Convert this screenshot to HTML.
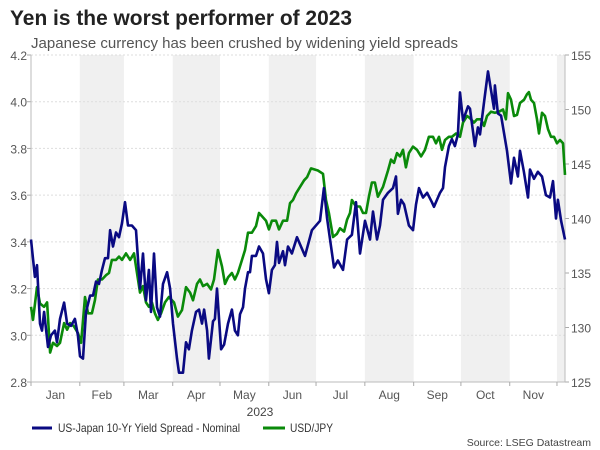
<!DOCTYPE html>
<html><head><meta charset="utf-8"><style>
body{margin:0;background:#fff;font-family:"Liberation Sans",Arial,sans-serif}
svg{display:block}
</style></head><body>
<svg id="c" width="600" height="450" xmlns="http://www.w3.org/2000/svg">
<text x="10" y="25" font-size="21" font-weight="bold" fill="#222" textLength="342" lengthAdjust="spacingAndGlyphs">Yen is the worst performer of 2023</text>
<text x="31" y="48" font-size="15" fill="#555" textLength="427" lengthAdjust="spacingAndGlyphs">Japanese currency has been crushed by widening yield spreads</text>
<g id="bands"></g><g id="grid"></g><g id="axes"></g><g id="lines"></g>
<text x="260" y="416" font-size="12" fill="#444" text-anchor="middle">2023</text>
<line x1="32" y1="428" x2="52" y2="428" stroke="#0a0a82" stroke-width="3"/>
<text x="58" y="432" font-size="12" fill="#333" textLength="182" lengthAdjust="spacingAndGlyphs">US-Japan 10-Yr Yield Spread - Nominal</text>
<line x1="263" y1="428" x2="285" y2="428" stroke="#0a8a0a" stroke-width="3"/>
<text x="290" y="432" font-size="12" fill="#333" textLength="43" lengthAdjust="spacingAndGlyphs">USD/JPY</text>
<text x="591" y="446" font-size="10.5" fill="#444" text-anchor="end">Source: LSEG Datastream</text>
</svg>
<script>
const months=["Jan","Feb","Mar","Apr","May","Jun","Jul","Aug","Sep","Oct","Nov"];
const monthStarts=[0,31,59,90,120,151,181,212,243,273,304,334];
const leftTicks=[2.8,3.0,3.2,3.4,3.6,3.8,4.0,4.2];
const rightTicks=[125,130,135,140,145,150,155];
const spreadDays=[0,2.5,3.8,5.7,7,8.3,10.8,12.7,15.2,16.5,18.4,21,22.9,25.4,27.9,29.8,31.1,33,34.9,37.5,39.4,41.3,43.2,45.1,47,48.9,50.2,52.1,54,55.9,57.8,59.7,61.6,64.1,66.7,69.2,71.1,73,74.9,76.2,78.1,80,81.9,83.8,86.4,88.3,90.2,92.7,94,96.5,98.4,100.3,102.2,104.8,106.7,108.6,109.9,111.8,113,115.6,116.8,118.1,120.7,122.6,125.1,127.6,129.5,131.4,132.7,134.6,135.9,137.8,139.1,140.3,142.9,144.8,147.3,149.2,151.1,153,154.9,156.2,157.5,160,161.3,163.2,165.7,168.9,174,178.4,183.5,186,188,192.4,194.9,198.1,200.7,203.8,206.4,208.9,212.1,215.3,217.2,219.7,221.6,223.5,226.7,229.9,231.8,233,235,236.9,240,242.6,244.5,246.4,248.9,251.5,254.6,255.9,259.7,261.6,262.9,265.4,267.3,269.2,271.1,272.4,274.3,277.5,278.8,281.9,283.8,285.1,287.7,290.2,294,294.6,296.5,298.5,302.3,304.8,306.7,309.2,310.5,313,315.6,316.9,319.4,321.9,324.5,327,329.6,331.5,333.4,334.6,336.6,339.1];
const spreadVals=[3.41,3.25,3.3,3.05,3.02,3.1,2.95,3.0,3.02,2.97,3.07,3.14,3.05,3.04,3.07,3.0,2.91,2.9,3.1,3.17,3.17,3.23,3.22,3.28,3.33,3.33,3.45,3.38,3.44,3.42,3.48,3.57,3.47,3.47,3.45,3.2,3.35,3.15,3.28,3.1,3.35,3.12,3.08,3.22,3.27,3.2,3.05,2.9,2.84,2.84,2.97,2.94,3.02,3.1,3.11,3.05,3.11,3.02,2.9,3.06,3.07,3.2,2.94,2.96,3.05,3.11,3.02,3.0,3.09,3.12,3.2,3.27,3.27,3.34,3.34,3.38,3.35,3.24,3.18,3.28,3.3,3.4,3.31,3.36,3.3,3.38,3.35,3.42,3.34,3.45,3.49,3.63,3.5,3.29,3.32,3.28,3.41,3.43,3.57,3.35,3.49,3.41,3.53,3.41,3.47,3.58,3.61,3.63,3.68,3.52,3.58,3.56,3.47,3.45,3.56,3.63,3.59,3.61,3.57,3.55,3.61,3.63,3.72,3.81,3.84,3.81,3.86,4.04,3.92,3.98,3.97,3.81,3.89,3.86,4.0,4.13,3.97,4.07,3.95,3.94,3.79,3.65,3.76,3.68,3.79,3.7,3.59,3.71,3.67,3.7,3.68,3.6,3.59,3.66,3.5,3.58,3.49,3.41];
const jpyDays=[0,1.3,3.8,5.7,8.3,10.2,12.1,14,16.5,18.4,21,22.9,24.8,27.3,29.8,31.8,34.3,36.2,38.7,40.6,42.5,45.1,47.6,49.5,51.4,54,55.9,57.8,60.3,62.9,65.4,67.3,69.2,71.1,73,74.9,76.8,78.7,80.6,82.6,85.1,87.6,90.8,93.3,95.9,98.4,101,102.9,105.4,107.3,109.2,111.8,114.3,116.2,118.7,121.3,123.2,125.1,127.6,129.5,131.4,134,135.9,137.8,140.3,142.9,144.8,146.7,149.2,151.1,153,155.6,157.5,160,162.6,164.5,166.4,168.3,170.8,173.4,175.3,177.8,182.2,185.4,187.3,189.2,191.8,194.3,196.2,198.8,200.7,202.6,203.8,206.4,208.9,210.8,212.7,214.6,216.5,218.4,220.3,223.5,226.7,228.6,230.5,232.4,234.3,236.2,238.1,240,242.6,245.1,247.7,250.2,252.7,255.3,257.2,259.1,261,262.9,265.4,267.3,269.9,272.4,274.3,276.9,278.8,281.3,283.2,285.8,287.7,289.6,292.1,294.6,297.2,299.7,301.6,302.9,304.8,306.7,308.6,310.5,313.1,315,316.2,317.5,319.4,321.3,322.6,324.5,326.4,328.3,330.2,332.1,334,335.9,337.8,339.1];
const jpyVals=[131.9,130.7,133.7,132.2,131.9,132.3,127.7,128.6,128.3,128.6,130.4,129.8,130.4,130.1,129.5,128.6,132.8,131.3,131.3,132.5,134.4,134.4,134.8,135.0,136.2,136.2,136.5,136.2,136.8,136.2,136.8,135.0,133.2,133.8,132.3,131.9,132.3,131.3,130.7,131.3,132.3,132.8,132.3,131.0,131.6,133.7,133.2,132.5,134.0,134.4,133.8,134.0,133.5,134.4,137.1,135.6,134.0,134.6,135.0,134.4,135.0,136.2,137.1,138.7,138.7,139.3,140.5,140.2,139.8,139.0,139.8,139.8,139.0,139.8,139.8,141.4,141.7,142.3,142.9,143.5,143.8,144.6,144.4,144.1,141.7,140.5,138.3,138.6,139.1,138.8,139.9,140.5,141.7,141.1,141.1,140.5,140.5,142.0,143.3,143.3,142.0,142.9,144.4,145.4,145.1,146.0,145.7,146.3,144.7,146.0,146.6,146.3,145.7,146.3,147.5,147.5,146.9,147.5,146.3,147.2,147.5,147.5,147.8,147.5,148.8,149.4,149.2,148.8,149.1,149.1,148.5,149.4,149.8,149.7,149.8,150.0,149.1,151.5,150.9,149.4,149.5,150.6,150.9,151.4,151.6,150.9,150.6,149.1,147.8,149.7,149.4,148.2,147.5,147.5,146.9,147.2,146.9,144.0];

const L=31,R=565,T=55,B=382,DMAX=339.1;
const NS="http://www.w3.org/2000/svg";
const x=d=>L+d/DMAX*(R-L);
const yL=v=>B-(v-2.8)/(4.2-2.8)*(B-T);
const yR=v=>B-(v-125)/(155-125)*(B-T);
function mk(tag,attrs,parent,text){const e=document.createElementNS(NS,tag);for(const k in attrs)e.setAttribute(k,attrs[k]);if(text!==undefined)e.textContent=text;document.getElementById(parent).appendChild(e);return e;}

for(let i=1;i<monthStarts.length;i+=2){
  const x1=x(monthStarts[i]),x2=i+1<monthStarts.length?x(monthStarts[i+1]):R;
  const r=mk('rect',{x:x1,y:T,width:Math.min(x2,R)-x1,height:B-T,fill:'#f0f0f0'},'bands');
  
  
}
leftTicks.forEach(v=>{
  const g=mk('line',{x1:L,x2:R,y1:yL(v),y2:yL(v),stroke:'#ddd','stroke-dasharray':'2,2'},'grid');
  
  
  const t=mk('text',{x:27,y:yL(v)+5,'font-size':12,fill:'#555','text-anchor':'end'},'axes',v.toFixed(1));
  
  
  mk('line',{x1:L-4,x2:L,y1:yL(v),y2:yL(v),stroke:'#aaa'},'axes');
});
rightTicks.forEach(v=>{
  const t=mk('text',{x:571,y:yR(v)+5,'font-size':12,fill:'#555'},'axes',String(v));
  
  
  mk('line',{x1:R,x2:R+4,y1:yR(v),y2:yR(v),stroke:'#aaa'},'axes');
});
mk('line',{x1:L,x2:L,y1:T,y2:B,stroke:'#bbb'},'axes');
mk('line',{x1:R,x2:R,y1:T,y2:B,stroke:'#bbb'},'axes');
mk('line',{x1:L,x2:R,y1:B,y2:B,stroke:'#bbb'},'axes');
monthStarts.forEach(d=>mk('line',{x1:x(d),x2:x(d),y1:B,y2:B+4,stroke:'#aaa'},'axes'));
months.forEach((m,i)=>{
  const t=mk('text',{x:(x(monthStarts[i])+x(monthStarts[i+1]))/2,y:399,'font-size':12,fill:'#555','text-anchor':'middle'},'axes',m);
  
  
});
const gp=jpyDays.map((d,i)=>x(d).toFixed(1)+','+yR(jpyVals[i]).toFixed(1)).join(' ');
const g=mk('polyline',{points:gp,fill:'none',stroke:'#0a8a0a','stroke-width':2.6,'stroke-linejoin':'round'},'lines');


const bp=spreadDays.map((d,i)=>x(d).toFixed(1)+','+yL(spreadVals[i]).toFixed(1)).join(' ');
const b=mk('polyline',{points:bp,fill:'none',stroke:'#0a0a82','stroke-width':2.6,'stroke-linejoin':'round'},'lines');


</script>
</body></html>
